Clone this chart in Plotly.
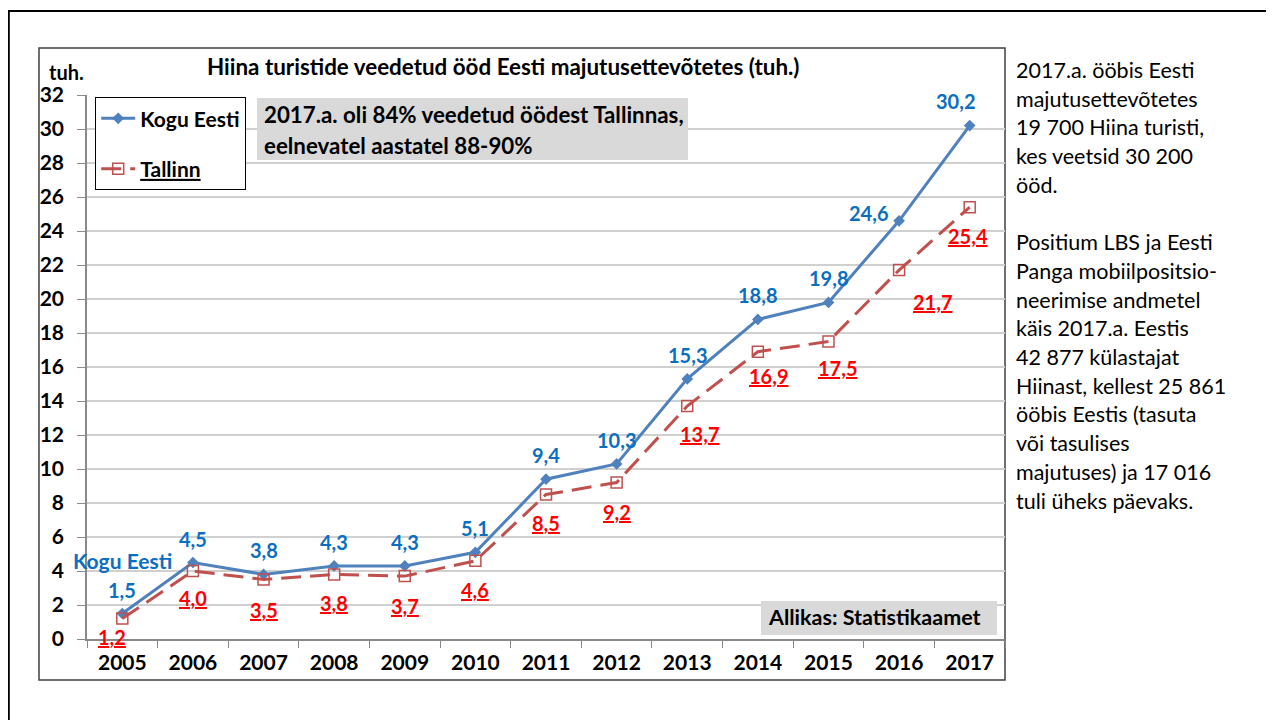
import plotly.graph_objects as go

years = ["2005", "2006", "2007", "2008", "2009", "2010", "2011", "2012", "2013", "2014", "2015", "2016", "2017"]
kogu_eesti = [1.5, 4.5, 3.8, 4.3, 4.3, 5.1, 9.4, 10.3, 15.3, 18.8, 19.8, 24.6, 30.2]
tallinn = [1.2, 4.0, 3.5, 3.8, 3.7, 4.6, 8.5, 9.2, 13.7, 16.9, 17.5, 21.7, 25.4]

title_text = "Hiina turistide veedetud ööd Eesti majutusettevõtetes (tuh.)"
note_lines = ["2017.a. oli 84% veedetud öödest Tallinnas,", "eelnevatel aastatel 88-90%"]
source_text = "Allikas: Statistikaamet"
side_lines = [
    "2017.a. ööbis Eesti", "majutusettevõtetes", "19 700 Hiina turisti,", "kes veetsid 30 200", "ööd.",
    "", "Positium LBS ja Eesti", "Panga mobiilpositsio-", "neerimise andmetel", "käis 2017.a. Eestis",
    "42 877 külastajat", "Hiinast, kellest 25 861", "ööbis Eestis (tasuta", "või tasulises",
    "majutuses) ja 17 016", "tuli üheks päevaks.",
]

# label offsets in pixels (style only)
blue_off = [(0, 24)] * 11 + [(-31, 8), (-14, 25)]
red_off = [(-10, -18), (0, -27), (0, -30), (0, -29), (0, -30), (0, -29), (0, -28), (0, -29),
           (12, -28), (11, -24), (9, -26), (33, -32), (-2, -29)]

FONT = "Lato"
BLUE = "#4f81bd"
RED = "#c0504d"
LBLUE = "#0a6fc2"
OFF = 8  # page body margin
W, H = 1274 - OFF, 720 - OFF
# plot area in screen pixels
L, R, T, B = 87, 1005, 95, 639


def px(x):
    return (x - L) / (R - L)


def py(y):
    return (B - y) / (B - T)


fig = go.Figure()
fig.add_trace(go.Scatter(
    x=years, y=kogu_eesti, name="Kogu Eesti", mode="lines+markers",
    line=dict(color=BLUE, width=3), marker=dict(symbol="diamond", size=9, color=BLUE),
    legendgroup="a"))
fig.add_trace(go.Scatter(
    x=years, y=tallinn, name="<u>Tallinn</u>", mode="lines+markers",
    line=dict(color=RED, width=3, dash="20px,9px"),
    marker=dict(symbol="square-open", size=11, color=RED, line=dict(width=1.5, color=RED)),
    legendgroup="b"))

ann = []
for i, v in enumerate(kogu_eesti):
    ann.append(dict(x=i, y=v, xref="x", yref="y", text=f"{v:.1f}".replace(".", ","), showarrow=False,
                    xanchor="center", yanchor="middle",
                    xshift=blue_off[i][0], yshift=blue_off[i][1],
                    font=dict(family=FONT, size=20, color=LBLUE, weight="bold")))
for i, v in enumerate(tallinn):
    ann.append(dict(x=i, y=v, xref="x", yref="y", text="<u>" + f"{v:.1f}".replace(".", ",") + "</u>",
                    showarrow=False, xanchor="center", yanchor="middle",
                    xshift=red_off[i][0], yshift=red_off[i][1],
                    font=dict(family=FONT, size=20, color="#ff0000", weight="bold")))
ann.append(dict(x=0, y=kogu_eesti[0], xref="x", yref="y", text="Kogu Eesti", showarrow=False,
                xanchor="center", yanchor="middle",
                xshift=0, yshift=53, font=dict(family=FONT, size=21, color=LBLUE, weight="bold")))


def txt(sx, sy, text, size, bold=True, xanchor="center"):
    f = dict(family=FONT, size=size, color="black")
    if bold:
        f["weight"] = "bold"
    return dict(x=px(sx), y=py(sy), xref="paper", yref="paper", text=text, showarrow=False,
                xanchor=xanchor, yanchor="middle", font=f)


ann.append(txt(503, 66, title_text, 22.4))
ann.append(txt(66, 72, "tuh.", 20))
for j, line in enumerate(note_lines):
    ann.append(txt(262, 115 + 30 * j, line, 22.3, xanchor="left"))
ann.append(txt(766, 617, source_text, 21.5, xanchor="left"))
for j, line in enumerate(side_lines):
    if line:
        ann.append(txt(1014, 70 + 28.7 * j, line, 21.5, bold=False, xanchor="left"))

shapes = [
    dict(type="rect", xref="paper", yref="paper", x0=px(8.8), x1=px(1300), y0=py(11), y1=py(760),
         line=dict(color="black", width=2), layer="below"),
    dict(type="rect", xref="paper", yref="paper", x0=px(39), x1=px(1005), y0=py(48), y1=py(680),
         line=dict(color="#404040", width=1.5), layer="below"),
    dict(type="rect", xref="paper", yref="paper", x0=px(257), x1=px(688), y0=py(98), y1=py(160),
         line=dict(width=0), fillcolor="#d9d9d9", layer="above"),
    dict(type="rect", xref="paper", yref="paper", x0=px(761), x1=px(997), y0=py(601), y1=py(635),
         line=dict(width=0), fillcolor="#d9d9d9", layer="above"),
]

fig.update_layout(
    width=W, height=H,
    margin=dict(l=L - OFF, r=(W + OFF) - R, t=T - OFF, b=(H + OFF) - B, pad=0),
    paper_bgcolor="white", plot_bgcolor="white",
    font=dict(family=FONT, color="black"),
    showlegend=True,
    legend=dict(x=px(95), y=py(97), xanchor="left", yanchor="top", bgcolor="white",
                bordercolor="black", borderwidth=1.2, tracegroupgap=20,
                font=dict(family=FONT, size=21, color="black", weight="bold"),
                itemwidth=34),
    xaxis=dict(type="category", range=[-0.5, 12.5], showgrid=False, showline=True, linecolor="#898989",
               linewidth=1.5, ticks="outside", tickson="boundaries", ticklen=7, tickcolor="#898989",
               ticklabelstandoff=4,
               tickfont=dict(family=FONT, size=21, color="black", weight="bold")),
    yaxis=dict(range=[0, 32], dtick=2, showgrid=True, gridcolor="#d0d0d0", gridwidth=1.5,
               showline=True, linecolor="#898989", linewidth=1.5, ticks="outside", ticklen=8,
               tickcolor="#898989", zeroline=False, ticklabelstandoff=9,
               tickfont=dict(family=FONT, size=21, color="black", weight="bold")),
    annotations=ann, shapes=shapes,
)

fig.write_html("out.html")
